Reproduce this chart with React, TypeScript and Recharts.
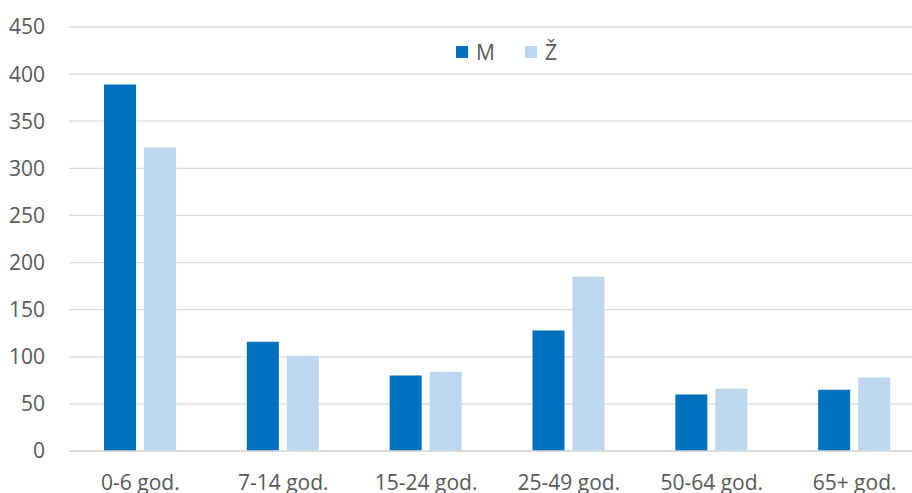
import React from 'react';
import { BarChart, Bar, XAxis, YAxis, CartesianGrid, Legend } from 'recharts';

const categories = ['0-6 god.', '7-14 god.', '15-24 god.', '25-49 god.', '50-64 god.', '65+ god.'];
const maleValues = [389, 116, 80, 128, 60, 65];
const femaleValues = [322, 101, 84, 185, 66, 78];
const yTicks = [0, 50, 100, 150, 200, 250, 300, 350, 400, 450];
const seriesNames = ['M', 'Ž'];
const colors = ['#0070C0', '#BDD7EE'];

const data = categories.map((c, i) => ({ name: c, M: maleValues[i], Z: femaleValues[i] }));

const FONT = '"Open Sans", sans-serif';

const renderLegend = () => (
  <div style={{ display: 'flex', alignItems: 'center', marginLeft: 456, fontFamily: FONT, fontSize: 21, color: '#595959', height: 24 }}>
    {seriesNames.map((n, i) => (
      <div key={n} style={{ display: 'flex', alignItems: 'center', width: 69 }}>
        <div style={{ width: 12, height: 12, background: colors[i], marginRight: 8 }} />
        <span style={{ lineHeight: '24px' }}>{n}</span>
      </div>
    ))}
  </div>
);

export default function App() {
  return (
    <div style={{ position: 'absolute', left: 0, top: 0, width: 912, height: 493, overflow: 'hidden', background: '#fff' }}>
      <BarChart width={940} height={520} data={data} margin={{ top: 27, right: 14, bottom: 0, left: 0 }} barSize={32} barGap={8}>
        <CartesianGrid vertical={false} stroke="#D9D9D9" strokeWidth={1.3} />
        <XAxis dataKey="name" height={69} tickSize={0} tickMargin={24} axisLine={{ stroke: '#D9D9D9', strokeWidth: 1.3 }} tickLine={false}
          tick={{ fill: '#595959', fontSize: 21, fontFamily: FONT }} interval={0} />
        <YAxis width={69} domain={[0, 450]} ticks={yTicks} tickSize={0} tickMargin={24} axisLine={false} tickLine={false}
          tick={{ fill: '#595959', fontSize: 21, fontFamily: FONT }} />
        <Legend verticalAlign="middle" layout="horizontal" content={renderLegend} wrapperStyle={{ top: 40, left: 0, width: 940 }} />
        <Bar dataKey="M" name="M" fill={colors[0]} isAnimationActive={false} />
        <Bar dataKey="Z" name="Ž" fill={colors[1]} isAnimationActive={false} />
      </BarChart>
    </div>
  );
}
